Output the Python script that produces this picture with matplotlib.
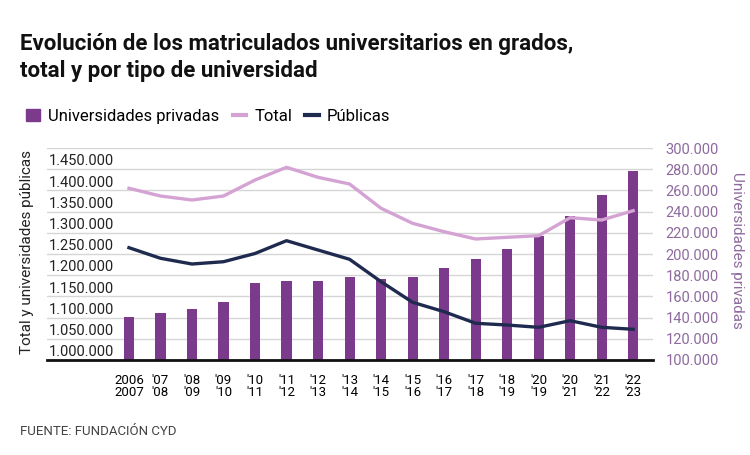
import matplotlib
matplotlib.use("Agg")
import matplotlib.pyplot as plt
from matplotlib.lines import Line2D
from matplotlib.patches import Patch

plt.rcParams['font.family'] = ['Roboto', 'DejaVu Sans']

# data
top_row = ["2006", "'07", "'08", "'09", "'10", "'11", "'12", "'13", "'14",
           "'15", "'16", "'17", "'18", "'20", "'20", "'21", "'22"]
bottom_row = ["2007", "'08", "'09", "'10", "'11", "'12", "'13", "'14", "'15",
              "'16", "'17", "'18", "'19", "'19", "'21", "'22", "'23"]
privadas = [140800, 144100, 147800, 154700, 172400, 174200, 174200, 178000, 176100,
            178000, 186800, 195600, 204400, 217000, 235800, 255700, 278600]
total = [1383000, 1364800, 1355400, 1364800, 1402500, 1432500, 1408900, 1393100, 1335800,
         1300400, 1280600, 1263400, 1267400, 1271200, 1313600, 1308200, 1330100]
publicas = [1242900, 1217900, 1204400, 1209800, 1229200, 1259400, 1237400, 1215500, 1162700,
            1114100, 1091900, 1064600, 1060500, 1055100, 1070700, 1055100, 1050400]
left_ticks = [1000000, 1050000, 1100000, 1150000, 1200000, 1250000, 1300000, 1350000, 1400000, 1450000]
right_ticks = list(range(100000, 300001, 20000))

c_bar = "#7b3a8c"
c_total = "#d4a3d4"
c_pub = "#1f2a4f"
c_right = "#8e6a9e"

def fmt(v):
    return f"{v:,}".replace(",", ".")

fig = plt.figure(figsize=(7.5, 4.55), dpi=100)
ax = fig.add_axes([0.0627, 0.2088, 0.808, 0.4659])
ax2 = ax.twinx()
x = list(range(len(privadas)))

# bars on right axis
ax.bar(x, privadas, width=0.32, color=c_bar, zorder=2)
ax.set_ylim(100000, 300000)
ax.set_xlim(-2.6, 16.63)
ax.set_yticks(right_ticks)
ax.set_yticklabels([fmt(v) for v in right_ticks], color=c_right, fontsize=10.5)
ax.yaxis.tick_right()
ax.tick_params(axis='y', length=0, pad=9)
ax.grid(axis='y', color="#d6d6d6", linewidth=1)
ax.set_axisbelow(True)
for s in ['top', 'left', 'right']:
    ax.spines[s].set_visible(False)
ax.spines['bottom'].set_linewidth(2)
ax.spines['bottom'].set_color("#111111")
ax.set_xticks(x)
ax.set_xticklabels([a + "\n" + b for a, b in zip(top_row, bottom_row)], fontsize=9.5,
                   linespacing=0.95)
ax.tick_params(axis='x', length=0, pad=10)

# lines on left axis
ax2.plot(x, total, color=c_total, linewidth=2.4, zorder=3)
ax2.plot(x, publicas, color=c_pub, linewidth=2.4, zorder=3)
ax2.set_ylim(978000, 1478000)
ax2.set_yticks(left_ticks)
ax2.set_yticklabels([fmt(v) for v in left_ticks], fontsize=10.5, color="#222222")
ax2.yaxis.tick_left()
for t in ax2.get_yticklabels():
    t.set_ha('left')
ax2.tick_params(axis='y', length=0, pad=-1)
for s in ax2.spines.values():
    s.set_visible(False)

fig.text(0.036, 0.446, "Total y universidades públicas", rotation=90, fontsize=11,
         color="#222222", ha='center', va='center')
fig.text(0.982, 0.45, "Universidades privadas", rotation=270, fontsize=11,
         color=c_right, ha='center', va='center')

fig.text(0.027, 0.89, "Evolución de los matriculados universitarios en grados,",
         fontsize=16, fontweight='bold', color="#111111")
fig.text(0.027, 0.83, "total y por tipo de universidad",
         fontsize=16, fontweight='bold', color="#111111")

handles = [Patch(color=c_bar), Line2D([], [], color=c_total, linewidth=3),
           Line2D([], [], color=c_pub, linewidth=3)]
fig.legend(handles, ["Universidades privadas", "Total", "Públicas"], loc='center left',
           bbox_to_anchor=(0.015, 0.745), ncol=3, frameon=False, fontsize=12,
           handlelength=0.8, handletextpad=0.5, columnspacing=0.8)

fig.text(0.027, 0.045, "FUENTE: FUNDACIÓN CYD", fontsize=9.5, color="#444444")

fig.savefig("out.png", dpi=100)
